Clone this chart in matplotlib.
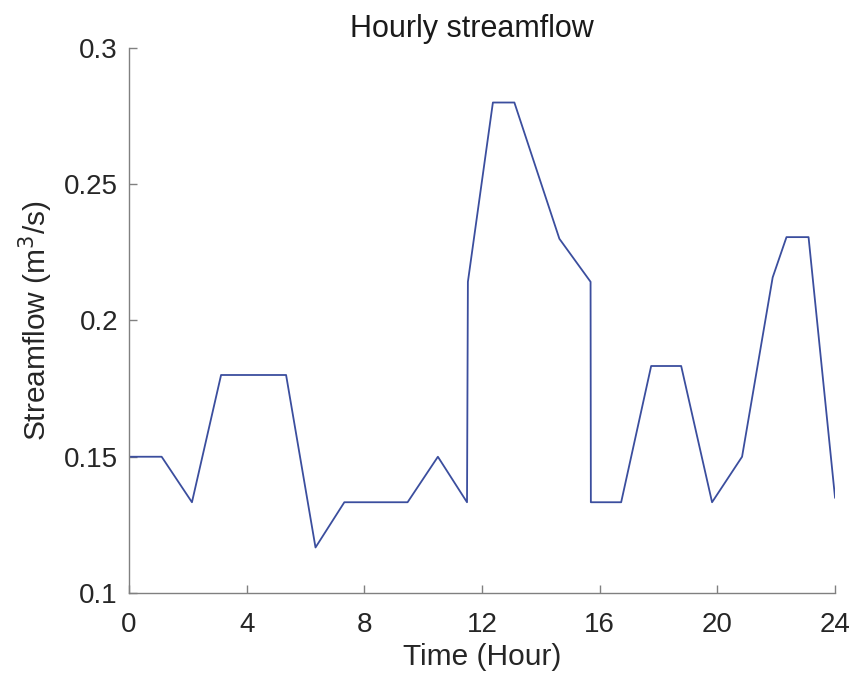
import numpy as np
import matplotlib.pyplot as plt

plt.rcParams['font.family'] = ['Liberation Sans', 'DejaVu Sans']

# hourly streamflow record (hour, m^3/s)
hours = [0, 1.11, 2.14, 3.13, 5.34, 6.34, 7.32, 9.47, 10.5, 11.49, 11.52,
         12.37, 13.1, 14.63, 15.69, 15.70, 16.73, 17.75, 18.77, 19.82,
         20.84, 21.88, 22.35, 23.1, 24]
flow = [0.15, 0.15, 0.1333, 0.18, 0.18, 0.1167, 0.1333, 0.1333, 0.15, 0.1333,
        0.2142, 0.28, 0.28, 0.23, 0.2142, 0.1333, 0.1333, 0.1833, 0.1833,
        0.1333, 0.15, 0.2158, 0.2306, 0.2306, 0.135]

xticks = [0, 4, 8, 12, 16, 20, 24]
yticks = [0.1, 0.15, 0.2, 0.25, 0.3]
ytick_labels = ['0.1', '0.15', '0.2', '0.25', '0.3']

fig = plt.figure(figsize=(8.56, 6.86), dpi=100)
ax = fig.add_axes([0.1507, 0.1356, 0.8248, 0.7944])

ax.plot(hours, flow, color='#3b4e9e', lw=1.3)

ax.set_xlim(0, 24)
ax.set_ylim(0.1, 0.3)
ax.set_xticks(xticks)
ax.set_yticks(yticks)
ax.set_yticklabels(ytick_labels)

gray = '#808080'
for side in ['top', 'right']:
    ax.spines[side].set_visible(False)
for side in ['left', 'bottom']:
    ax.spines[side].set_color(gray)
    ax.spines[side].set_linewidth(1.0)
ax.tick_params(direction='in', length=6, width=1.0, color=gray,
               labelsize=20, labelcolor='#262626')
ax.tick_params(axis='x', pad=14)
ax.tick_params(axis='y', pad=8)

ax.set_title('Hourly streamflow', fontsize=22, color='#1a1a1a', pad=8, x=0.485)
ax.set_xlabel('Time (Hour)', fontsize=21.5, color='#262626', labelpad=3)
ax.set_ylabel('Streamflow (m$^3$/s)', fontsize=21.5, color='#262626', labelpad=6)

fig.savefig('out.png', dpi=100, facecolor='white')
